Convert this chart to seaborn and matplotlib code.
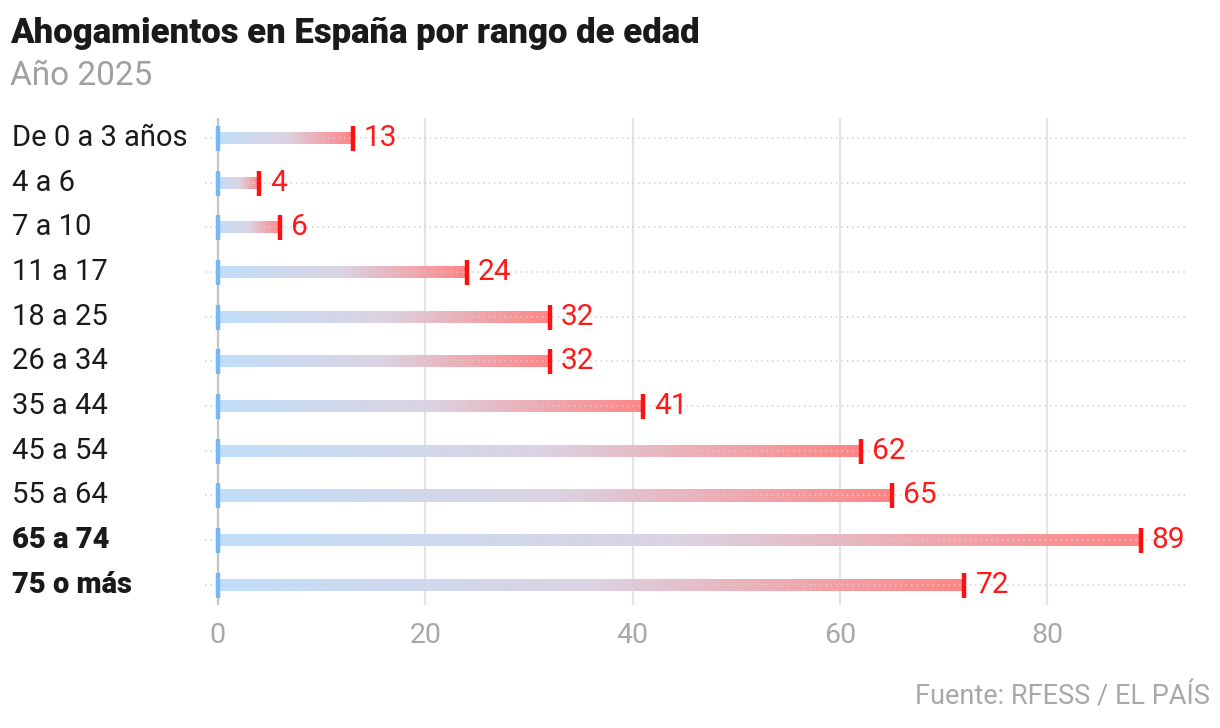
import numpy as np
import pandas as pd
import matplotlib
matplotlib.use("Agg")
import matplotlib.pyplot as plt
import seaborn as sns
from matplotlib.colors import LinearSegmentedColormap
from matplotlib.transforms import blended_transform_factory

# ---- data ----
categories = ["De 0 a 3 años", "4 a 6", "7 a 10", "11 a 17", "18 a 25", "26 a 34",
              "35 a 44", "45 a 54", "55 a 64", "65 a 74", "75 o más"]
values = [13, 4, 6, 24, 32, 32, 41, 62, 65, 89, 72]
bold_categories = ["65 a 74", "75 o más"]
xticks = [0, 20, 40, 60, 80]
title = "Ahogamientos en España por rango de edad"
subtitle = "Año 2025"
source = "Fuente: RFESS / EL PAÍS"

sns.set_theme(style="white")
plt.rcParams["font.family"] = ["Roboto", "DejaVu Sans"]

df = pd.DataFrame({"cat": categories, "val": values})

fig = plt.figure(figsize=(12.2, 7.28), dpi=100)
ax = fig.add_axes([0.168, 0.169, 0.806, 0.669])

sns.barplot(data=df, x="val", y="cat", orient="h", color="white", width=0.27,
            ax=ax, linewidth=0, zorder=2)

cmap = LinearSegmentedColormap.from_list("grad", ["#c0dffb", "#dcd3e3", "#ff8585"])
grad = np.linspace(0, 1, 256).reshape(1, -1)
for p in list(ax.patches):
    x0, y0 = p.get_x(), p.get_y()
    w, h = p.get_width(), p.get_height()
    p.set_facecolor((1, 1, 1, 0))
    im = ax.imshow(grad, cmap=cmap, aspect="auto", extent=[x0, x0 + w, y0 + h, y0],
                   zorder=2, interpolation="bilinear")
    im.set_clip_path(p)

ypos = np.arange(len(categories))
# dotted horizontal guides
for y in ypos:
    ax.axhline(y, color="#d0d0d0", linestyle=(0, (1, 2.5)), linewidth=1.1, zorder=3)

# vertical grid
for t in xticks:
    ax.axvline(t, color="#c4c4c4" if t == 0 else "#e4e4e4", linewidth=1.6, zorder=1)

# end caps
ax.plot([0] * len(values), ypos, linestyle="none", marker="|", markersize=18,
        markeredgewidth=3.2, color="#74b8f7", zorder=4)
ax.plot(values, ypos, linestyle="none", marker="|", markersize=18,
        markeredgewidth=3.2, color="#ff1010", zorder=4)

for y, v in zip(ypos, values):
    ax.annotate(str(v), (v, y), xytext=(8, 0), textcoords="offset points",
                va="center", ha="left", fontsize=21.5, color="#ff1a1a", zorder=5)

ax.set_xlim(-1.25, 93.6)
ax.set_ylim(len(categories) - 0.55, -0.45)
ax.set_xticks(xticks)
ax.set_xticklabels([str(t) for t in xticks], fontsize=20.5, color="#a8a8a8")
ax.tick_params(axis="x", length=0, pad=12)
ax.set_yticks([])
ax.set_xlabel("")
ax.set_ylabel("")
for s in ax.spines.values():
    s.set_visible(False)

tr = blended_transform_factory(fig.transFigure, ax.transData)
for y, c in zip(ypos, categories):
    ax.text(12 / 1220, y, c, transform=tr, ha="left", va="center", fontsize=21,
            color="#1a1a1a", fontweight="heavy" if c in bold_categories else "normal")

fig.text(10 / 1220, 1 - 33 / 728, title, fontsize=25, fontweight="heavy",
         color="#1a1a1a", ha="left", va="center")
fig.text(10 / 1220, 1 - 76 / 728, subtitle, fontsize=24, color="#a0a0a0",
         ha="left", va="center")
fig.text(1210 / 1220, 1 - 697 / 728, source, fontsize=19.5, color="#a8a8a8",
         ha="right", va="center")

fig.savefig("out.png", dpi=100)
